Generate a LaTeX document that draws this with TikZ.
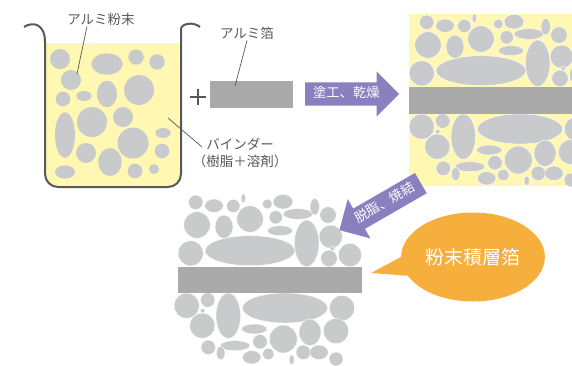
\documentclass[tikz,border=0pt]{standalone}
\usepackage{fontspec}
\setmainfont{Noto Sans CJK JP}
\usepackage{tikz}
\usetikzlibrary{shapes.arrows,shapes.geometric}

\definecolor{binder}{HTML}{FFF7B2}
\definecolor{grain}{HTML}{C9CACC}
\definecolor{foil}{HTML}{AAAAAA}
\definecolor{ink}{HTML}{595757}
\definecolor{proc}{HTML}{8A7FBF}
\definecolor{bubble}{HTML}{F6AE3C}

\tikzset{
  grain/.style={fill=grain},
  packed/.style={fill=grain,draw=white,line width=0.4pt},
  foilstrip/.style={fill=foil},
  label/.style={text=ink,font=\fontsize{13.5}{17}\selectfont,inner sep=1pt},
  leader/.style={draw=ink,line width=0.7pt},
  proc/.style={single arrow,fill=proc,text=white,anchor=tail,
    font=\fontsize{13.3}{15}\selectfont,
    minimum height=94pt,text height=9.5pt,text depth=2pt,
    inner ysep=5.75pt,inner xsep=2pt,single arrow head extend=11pt},
}

% grains above the foil, measured from the foil's top left corner
\newcommand\uppergrains{%
  \foreach \px/\py/\rx/\ry in {17.7/-64.7/7.3/7.3, 36/-61.3/9.3/6.7,
      55.3/-61/6.7/6.7, 65.3/-68.7/2.3/4.7, 105/-65.3/10/7.3,
      89.3/-63/5/5, 19/-42/13.3/13.3, 46/-40.3/9/11.7, 72/-48/13.3/13.3,
      97.7/-49.7/6.7/6.7, 120/-53/15/5.3, 136.7/-60.3/4.7/8.3,
      150/-52/8.3/8.3, 102/-36.3/12.7/5, 128.7/-23.7/12.3/23.3,
      152.7/-30.3/11.7/11.7, 12.7/-13.7/12.7/12.7, 72/-16.3/45/15,
      151/-8.7/8.3/8.3, 154.3/-18.7/2.3/2.3, 172/-12/11.7/11.7}
    \path[packed] (\px,\py) ellipse [x radius=\rx,y radius=\ry];}

% grains below the foil, same origin
\newcommand\lowergrains{%
  \foreach \px/\py/\rx/\ry in {12.7/39.7/12.7/12.7, 33.7/34/7.3/7.3,
      28.7/44.7/2.3/2.3, 54.3/49.7/12.3/22.7, 28.3/59.7/12.7/12.7,
      111/42/42.7/15, 168/42/12.7/12.7, 80.3/63/12.7/5, 109.3/73/14/14,
      136/66.3/11/13.3, 162/65/12.7/12.7, 86/75.7/7.3/7.3,
      34.3/81.3/7.3/7.3, 61/79.7/15/5, 46.7/87/4.3/6.7,
      77.7/91.3/9.3/6.7, 94.3/88/5.7/5.7, 117.7/93.7/2.7/5,
      129.3/86.3/7.3/7.3, 145/86.3/9.3/7.3, 162/93/7/7}
    \path[packed] (\px,\py) ellipse [x radius=\rx,y radius=\ry];}

\begin{document}
\begin{tikzpicture}[x=1pt,y=-1pt]
\useasboundingbox (0,0) rectangle (572,365);

% beaker with binder and powder
\fill[binder,rounded corners=13pt] (45,43) rectangle (181,187);
\fill[binder] (45,43) rectangle (181,120);
\foreach \px/\py/\rx/\ry in {60/59/10/10, 107/64/15.7/10.7, 136/57/7.7/7.7,
    157/62/7.7/7.7, 71/80/10/10, 84/96/7.7/5, 63/99/7.3/7.3, 107/94/10/13.3,
    139/90/15/15, 92/122/15/15, 123/117/10/10, 65/135/10/22.7,
    133/143/15.5/15.5, 163/133/7.7/5, 86/153/10/10, 110/162/11.7/14,
    162/151/7.3/7.3, 65/172/10/6.7, 135/171/7.3/7.3, 154/169/5/5}
  \path[grain] (\px,\py) ellipse [x radius=\rx,y radius=\ry];
\draw[ink,line width=2pt] (24,27) .. controls (33,21) and (45,24) .. (45,42)
  [rounded corners=13pt] -- (45,187) -- (181,187) -- (181,42) [sharp corners]
  .. controls (181,24) and (193,21) .. (200,27);

\node[label] (powder) at (101,19) {アルミ粉末};
\coordinate (powderend) at (77,74);
\draw[leader] (powder.south) ++(-14,0) -- (powderend);

\node[label,align=center] (binderlbl) at (240,153) {バインダー\\（樹脂＋溶剤）};
\coordinate (binderend) at (168,118);
\draw[leader] (binderend) -- (202,147);

% plus and the bare foil
\draw[ink,line width=2.2pt] (190,97) -- (206,97) (198,89) -- (198,105);
\fill[foilstrip] (210,81) rectangle (293,108);
\node[label] (foillbl) at (247,33) {アルミ箔};
\coordinate (foilend) at (235,86);
\draw[leader] (foillbl.south) -- (foilend);

% coated foil, still wet with binder
\begin{scope}
  \clip (409,14) rectangle (572,186);
  \fill[binder] (409,14) rectangle (572,186);
  \begin{scope}[shift={(409,87)}]
    \uppergrains
    \lowergrains
  \end{scope}
  \fill[foilstrip] (409,87) rectangle (572,114);
\end{scope}

% sintered foil
\begin{scope}[shift={(178,267)}]
  \uppergrains
\end{scope}
\begin{scope}[shift={(174,266)}]
  \lowergrains
\end{scope}
\fill[foilstrip] (178,267) rectangle (362,293);

% process steps
\node[proc] (coat) at (305,94) {塗工、乾燥};
\node[proc,shape border rotate=180,rotate=30] (sinter) at (421,183) {脱脂、焼結};

% speech bubble
\node[ellipse,fill=bubble,minimum width=142pt,minimum height=89pt,
  text=white,font=\fontsize{19}{22}\selectfont] (stack) at (473,257) {粉末積層箔};
\coordinate (stacktip) at (371,273);
\fill[bubble] (stacktip) -- (stack.180) -- (stack.196) -- cycle;
\end{tikzpicture}
\end{document}
